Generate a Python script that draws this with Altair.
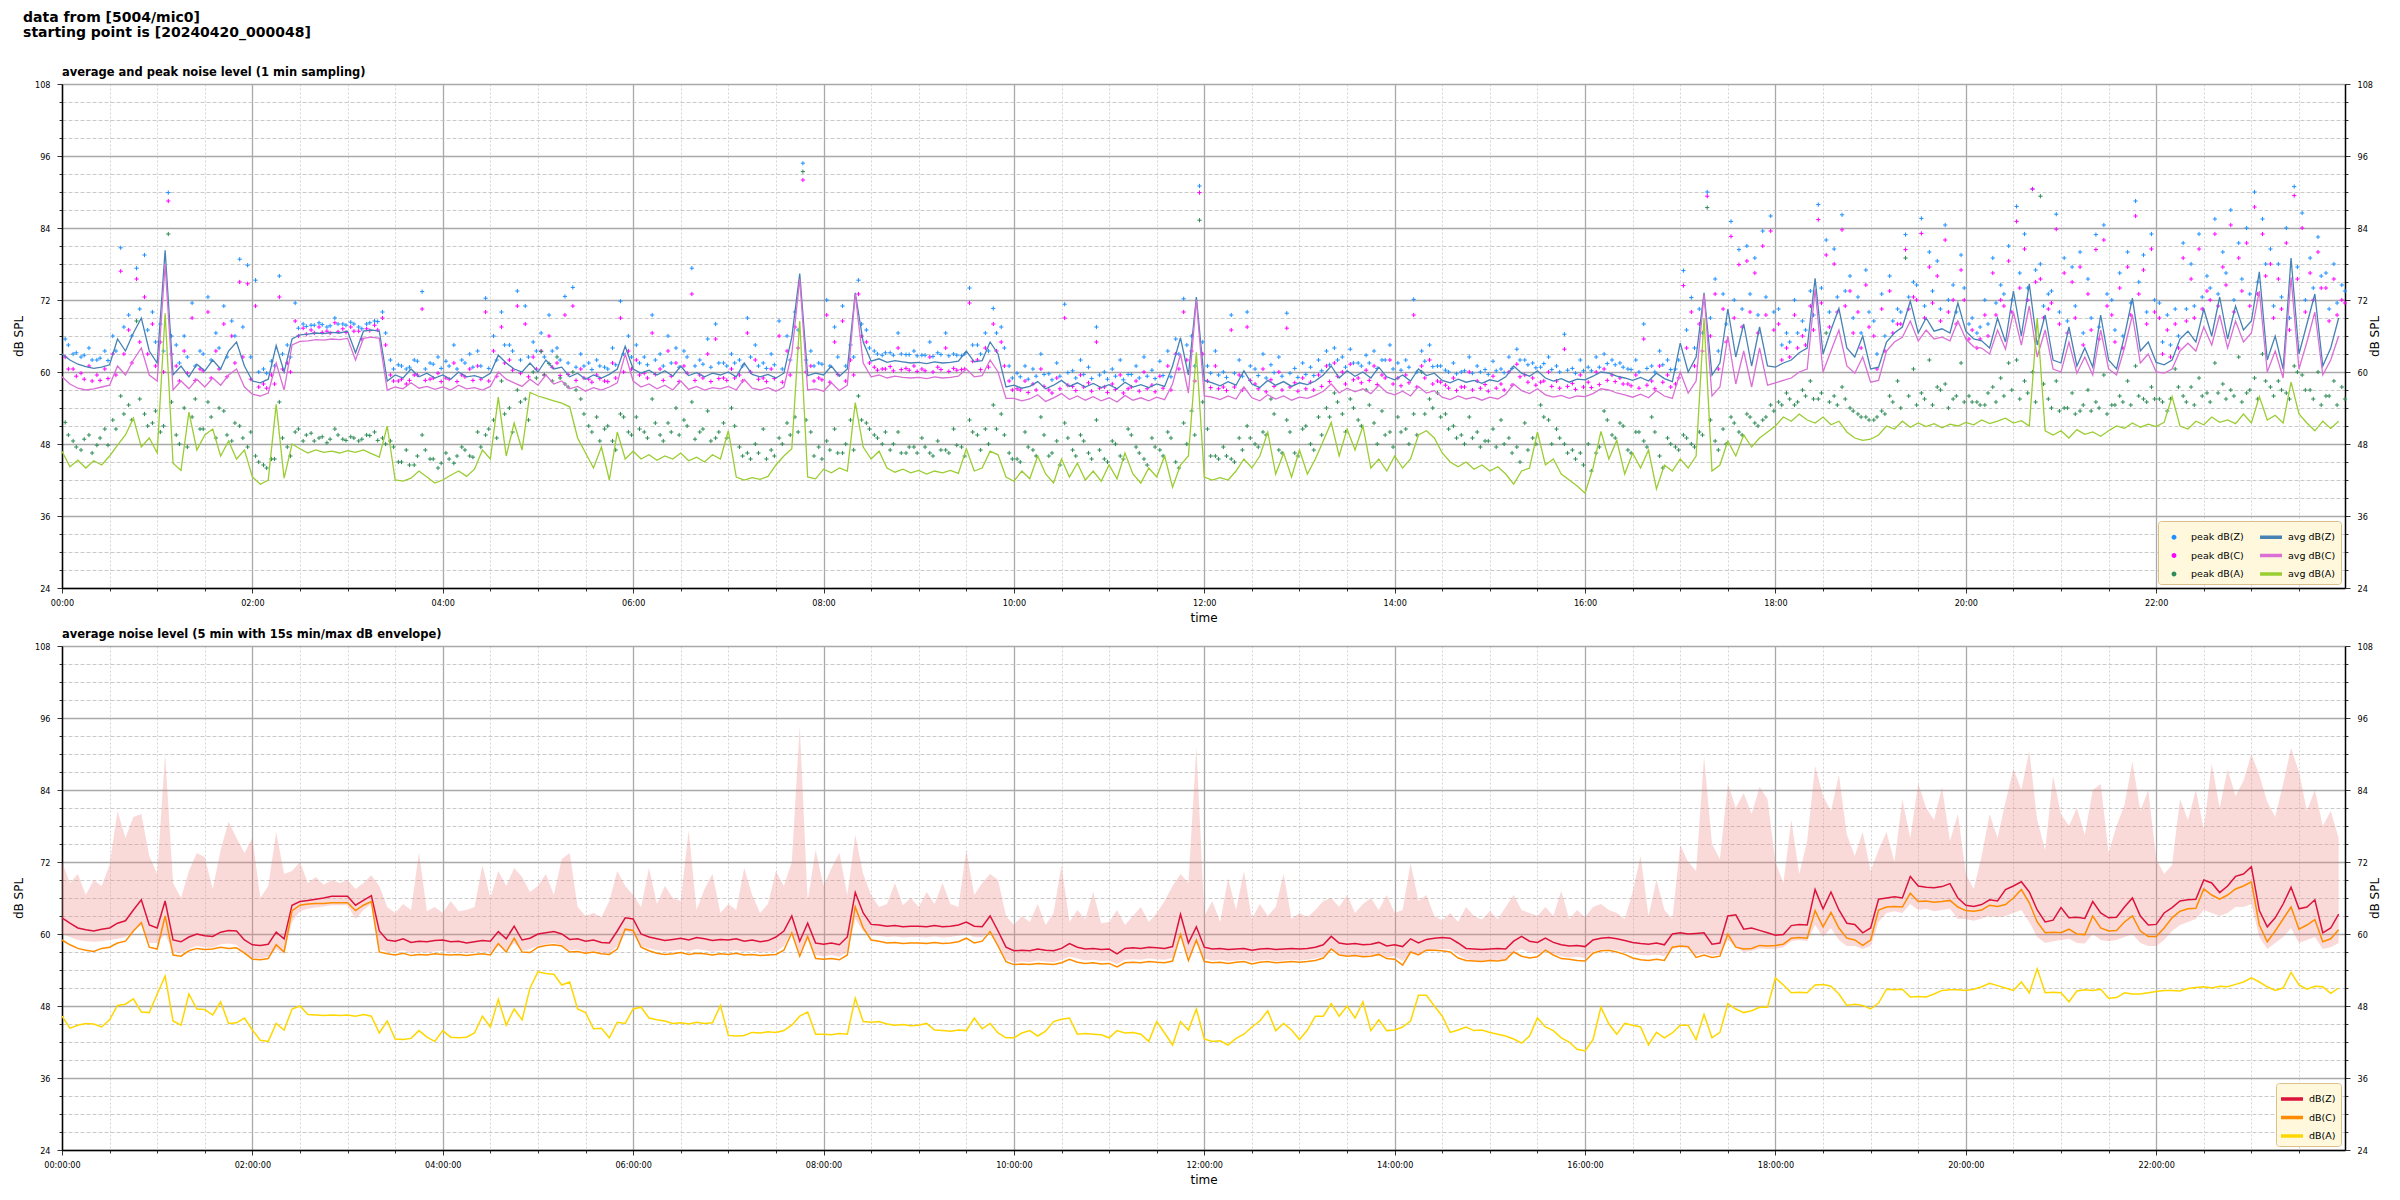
import altair as alt
import pandas as pd

FONT = "DejaVu Sans"
TICK_FONT = "DejaVu Sans Condensed, Liberation Sans Narrow, DejaVu Sans"
W, H = 2283, 504

# ---------------- values (5-minute grid) ----------------
avg_z = [
    63.0, 62.0, 61.3, 60.9, 60.6, 60.8, 61.2, 65.5, 63.5, 66.5, 69.0, 63.5,
    61.5, 80.3, 59.5, 61.0, 59.2, 61.3, 60.2, 62.0, 60.5, 63.5, 65.0, 61.0,
    58.5, 58.2, 58.8, 64.4, 60.0, 65.5, 66.2, 66.3, 66.5, 66.4, 66.6, 66.5,
    66.8, 63.2, 66.8, 67.0, 66.8, 58.5, 59.5, 59.0, 60.5, 59.2, 59.8, 59.0,
    59.5, 58.8, 60.0, 59.2, 59.4, 59.0, 59.8, 62.8, 61.5, 60.5, 60.0, 61.5,
    60.0, 62.0, 60.5, 60.8, 59.2, 59.8, 58.8, 59.5, 59.0, 59.6, 60.5, 64.3,
    60.5, 59.8, 60.3, 59.5, 60.2, 59.3, 61.0, 59.4, 59.9, 59.2, 59.8, 59.5,
    60.0, 59.2, 61.5, 59.6, 59.2, 59.6, 59.0, 59.8, 65.8, 76.4, 59.4, 59.8,
    59.5, 61.0, 59.3, 60.5, 73.2, 65.0, 61.8, 62.2, 61.6, 61.9, 61.7, 61.5,
    61.6, 61.4, 61.7, 61.5, 61.6, 61.8, 63.5, 61.7, 61.9, 65.0, 63.0, 57.5,
    57.8, 57.3, 57.6, 58.4, 57.2, 57.8, 58.6, 57.6, 58.2, 57.5, 58.1, 57.4,
    57.9, 57.2, 58.3, 57.5, 57.9, 57.4, 58.0, 57.6, 61.0, 65.7, 59.5, 72.5,
    58.6, 58.2, 57.7, 58.4, 57.8, 60.2, 58.0, 57.4, 58.6, 57.8, 58.4, 57.6,
    58.2, 57.9, 58.5, 59.5, 61.0, 59.0, 60.2, 59.3, 60.0, 59.0, 60.8, 59.2,
    58.7, 59.5, 58.5, 60.5, 59.4, 59.8, 58.6, 58.2, 58.8, 58.3, 58.6, 58.1,
    58.7, 58.4, 59.2, 61.0, 59.8, 59.3, 60.2, 59.0, 58.5, 58.9, 58.3, 58.8,
    58.7, 59.3, 60.0, 59.8, 59.3, 59.0, 58.6, 59.1, 58.5, 59.8, 58.9, 58.4,
    64.8, 60.0, 62.5, 73.2, 59.5, 61.5, 70.5, 62.5, 68.0, 61.0, 67.5, 61.0,
    60.8, 61.5, 62.0, 63.2, 64.0, 75.6, 63.0, 67.0, 70.6, 64.0, 62.5, 66.0,
    60.5, 60.8, 65.0, 66.5, 67.5, 71.8, 66.5, 69.0, 66.8, 67.2, 66.5, 71.5,
    66.8, 65.5, 65.2, 64.0, 69.0, 65.0, 73.5, 66.0, 74.7, 64.5, 69.5, 62.0,
    61.5, 67.5, 61.0, 64.0, 60.8, 69.5, 62.0, 60.5, 66.0, 72.3, 63.5, 65.0,
    61.6, 61.2, 62.0, 65.5, 66.8, 65.0, 70.5, 66.0, 72.5, 65.5, 71.0, 67.0,
    68.5, 76.7, 62.0, 66.0, 60.5, 79.0, 63.0, 68.0, 73.0, 61.0, 64.0, 69.0,
]
avg_c = [
    59.2, 58.0, 57.3, 57.0, 57.2, 57.5, 57.8, 61.0, 59.5, 62.0, 64.0, 59.5,
    58.5, 78.0, 57.0, 58.5, 57.2, 58.8, 57.5, 59.0, 57.8, 59.5, 60.5, 57.5,
    56.3, 56.0, 56.5, 61.5, 57.0, 64.5, 65.1, 65.2, 65.4, 65.3, 65.5, 65.4,
    65.6, 62.0, 65.6, 65.8, 65.6, 57.0, 57.5, 57.2, 58.2, 57.3, 57.6, 57.1,
    57.5, 57.0, 57.8, 57.2, 57.4, 57.0, 57.6, 60.0, 58.8, 58.2, 57.6, 58.8,
    57.8, 59.5, 58.0, 58.5, 57.2, 57.6, 56.8, 57.4, 57.0, 57.5, 58.2, 63.0,
    58.5, 57.5, 58.0, 57.2, 57.8, 57.0, 58.5, 57.1, 57.6, 57.0, 57.4, 57.2,
    57.6, 57.0, 58.8, 57.3, 57.0, 57.4, 56.8, 57.5, 63.0, 75.5, 57.0, 57.2,
    56.8, 58.2, 56.9, 57.8, 73.0, 61.5, 59.2, 59.5, 59.0, 59.3, 59.1, 59.0,
    59.1, 58.9, 59.2, 59.0, 59.1, 59.3, 60.5, 59.2, 59.4, 62.0, 60.0, 55.6,
    55.6, 55.2, 55.5, 56.2, 55.1, 55.7, 56.4, 55.4, 56.0, 55.3, 55.9, 55.2,
    55.7, 55.0, 56.1, 55.3, 55.7, 55.2, 55.8, 55.4, 58.0, 63.0, 56.5, 72.0,
    56.0, 55.8, 55.4, 56.0, 55.5, 57.5, 55.7, 55.2, 56.2, 55.5, 56.0, 55.3,
    55.8, 55.6, 56.1, 56.8, 58.0, 56.5, 57.3, 56.7, 57.2, 56.4, 57.8, 56.6,
    56.2, 56.8, 56.0, 57.6, 56.5, 56.9, 55.8, 55.4, 56.0, 55.5, 55.8, 55.3,
    55.8, 55.5, 56.3, 58.0, 56.9, 56.4, 57.2, 56.2, 55.8, 56.1, 55.6, 56.0,
    55.9, 56.4, 57.2, 57.0, 56.5, 56.2, 55.8, 56.3, 55.7, 56.9, 56.0, 55.6,
    60.0, 56.5, 58.5, 73.0, 56.0, 57.5, 66.0, 58.0, 63.5, 57.5, 64.0, 57.8,
    58.2, 58.6, 59.0, 60.0, 60.5, 73.8, 60.0, 63.5, 67.0, 61.0, 59.8, 62.5,
    58.3, 58.6, 63.5, 65.0, 65.8, 68.5, 65.2, 67.0, 65.5, 65.8, 65.2, 68.5,
    65.5, 64.2, 64.0, 63.0, 67.0, 63.8, 70.0, 64.5, 71.0, 62.5, 67.0, 60.5,
    60.0, 65.0, 59.8, 62.5, 59.5, 67.0, 60.5, 59.5, 64.0, 69.5, 61.5, 63.0,
    60.0, 59.8, 60.5, 63.5, 64.8, 63.5, 67.5, 64.5, 69.5, 64.0, 68.5, 65.0,
    66.5, 73.5, 60.0, 63.5, 59.0, 75.8, 60.5, 65.0, 70.0, 59.5, 62.0, 66.0,
]
avg_a = [
    46.8, 44.2, 45.3, 44.0, 45.2, 44.5, 46.0, 47.8, 49.5, 52.3, 47.5, 49.0,
    46.5, 69.8, 44.8, 43.6, 53.3, 47.0, 49.5, 50.5, 46.0, 48.5, 45.5, 47.0,
    42.5, 41.3, 42.0, 54.6, 42.3, 48.0, 47.2, 46.5, 47.0, 46.6, 46.8, 46.5,
    46.9, 46.6, 47.0, 46.4, 45.8, 51.0, 42.0, 41.8, 42.3, 43.5, 42.5, 41.5,
    42.0, 42.8, 43.5, 42.6, 43.8, 47.0, 45.5, 55.8, 46.0, 51.5, 47.0, 56.6,
    56.0, 55.6, 55.2, 54.8, 54.2, 49.0, 46.5, 44.0, 47.5, 42.0, 50.0, 45.5,
    46.8, 45.5, 46.2, 45.3, 46.0, 45.5, 46.5, 45.2, 45.8, 45.0, 46.2, 45.5,
    50.2, 42.5, 42.0, 42.4, 42.1, 42.6, 44.5, 46.0, 47.2, 68.5, 42.5, 42.2,
    43.8, 43.2, 44.0, 43.5, 54.9, 47.5, 45.5, 46.8, 44.0, 43.3, 43.8, 43.2,
    43.6, 43.0, 43.5, 43.2, 43.6, 43.1, 47.2, 43.5, 44.0, 46.8, 46.2, 42.5,
    41.8, 43.5, 42.2, 46.0, 43.0, 41.5, 45.5, 42.5, 44.8, 42.0, 43.5, 41.8,
    44.5, 42.2, 46.5, 43.0, 41.5, 44.0, 42.5, 46.0, 40.8, 44.5, 46.0, 63.3,
    42.5, 42.0, 42.4, 42.0, 43.5, 45.5, 44.0, 46.0, 50.0, 43.0, 46.5, 42.5,
    47.0, 43.0, 45.5, 48.5, 51.6, 46.0, 50.5, 47.0, 51.0, 44.0, 45.5, 43.5,
    46.0, 44.0, 45.5, 49.5, 50.2, 49.0, 46.5, 45.0, 44.2, 45.0, 43.8, 44.5,
    43.5, 44.2, 43.0, 41.3, 43.5, 44.0, 50.0, 44.5, 45.5, 43.0, 42.0, 41.0,
    39.8, 44.0, 50.1, 45.5, 48.6, 43.0, 46.5, 44.0, 47.0, 40.5, 44.5, 43.5,
    45.5, 44.0, 46.0, 69.0, 43.5, 44.5, 48.5, 46.0, 49.5, 47.5, 49.0, 50.0,
    51.0, 52.5, 51.8, 53.0, 52.0, 51.5, 52.5, 51.2, 51.8, 50.0, 49.0, 48.6,
    48.8, 49.5, 51.0, 50.5, 51.8, 50.8, 51.5, 50.9, 51.4, 50.7, 51.3, 51.0,
    51.6, 51.2, 52.0, 51.4, 51.8, 52.3, 51.5, 51.9, 51.0, 69.0, 50.2, 49.5,
    50.2, 49.0, 50.4, 49.6, 50.0, 49.3, 50.2, 51.0, 50.6, 51.5, 50.8, 51.3,
    50.9, 51.6, 55.9, 51.0, 50.5, 51.8, 51.2, 52.5, 51.6, 52.0, 51.4, 53.0,
    51.5, 55.9, 52.0, 52.8, 51.5, 58.3, 53.0, 51.5, 50.2, 51.8, 50.6, 51.8,
]
# 1-min peaks, first sample in each 5-min slot (minute +2)
peak_z = [
    65.5, 63.0, 62.5, 64.0, 62.0, 63.5, 66.0, 80.7, 69.5, 77.3, 79.5, 70.0,
    68.0, 89.9, 64.5, 66.0, 71.5, 63.5, 72.5, 66.5, 71.0, 68.5, 78.8, 77.8,
    75.3, 60.5, 61.8, 76.0, 64.5, 71.5, 68.0, 67.8, 68.2, 67.5, 69.0, 68.0,
    68.3, 67.5, 68.0, 68.5, 70.0, 62.0, 61.2, 60.5, 62.0, 73.4, 61.5, 62.5,
    61.8, 64.5, 62.0, 63.0, 63.5, 72.3, 66.0, 70.0, 64.5, 73.5, 71.0, 65.0,
    66.5, 69.5, 64.0, 72.6, 74.1, 63.0, 61.5, 62.0, 60.8, 64.0, 71.8, 66.0,
    64.5, 62.5, 69.5, 63.0, 66.0, 64.0, 63.5, 77.3, 62.0, 65.5, 68.0, 61.5,
    63.0, 62.0, 69.0, 64.5, 61.5, 63.0, 68.5, 66.0, 70.0, 94.8, 63.5, 61.5,
    72.0, 67.5, 71.0, 64.5, 75.3, 67.0, 63.5, 62.8, 63.2, 66.5, 62.9, 63.5,
    62.8, 65.0, 63.2, 66.5, 63.0, 62.7, 74.0, 64.5, 66.5, 70.6, 67.5, 61.0,
    59.8, 61.0, 60.5, 63.0, 59.7, 61.5, 71.3, 60.2, 62.0, 60.8, 67.5, 60.0,
    60.5, 62.0, 59.6, 61.0, 62.5, 60.3, 61.8, 63.5, 65.5, 72.2, 66.0, 91.0,
    61.0, 63.5, 60.0, 69.5, 62.0, 70.0, 60.5, 63.0, 61.2, 62.5, 69.8, 60.6,
    61.5, 60.8, 62.0, 63.5, 64.0, 62.5, 63.8, 61.5, 62.8, 63.5, 62.0, 64.5,
    61.5, 62.0, 72.1, 63.5, 64.5, 61.0, 60.3, 61.5, 60.0, 62.5, 61.0, 60.4,
    61.8, 60.5, 62.5, 63.8, 62.0, 61.5, 60.8, 62.5, 61.0, 66.3, 60.6, 62.0,
    60.8, 62.5, 63.0, 62.0, 61.5, 60.5, 62.0, 68.0, 61.0, 63.5, 62.0, 60.5,
    76.9, 72.4, 70.5, 90.0, 75.5, 73.0, 85.1, 80.4, 81.0, 79.0, 83.5, 86.0,
    70.5, 66.5, 72.0, 68.5, 73.5, 87.9, 82.0, 80.5, 86.2, 76.0, 72.5, 77.0,
    68.5, 73.0, 76.0, 70.5, 82.9, 75.0, 85.6, 80.0, 78.5, 84.5, 74.5, 79.5,
    68.0, 66.5, 72.0, 79.0, 74.5, 81.0, 87.6, 83.0, 90.5, 78.0, 73.0, 86.3,
    79.0, 77.5, 80.0, 75.5, 82.9, 84.5, 72.0, 76.5, 80.0, 88.5, 79.5, 83.0,
    71.5, 69.5, 70.5, 81.5, 78.0, 83.0, 76.0, 85.5, 80.0, 87.0, 81.5, 84.0,
    90.0, 85.5, 80.5, 78.0, 84.0, 90.9, 86.5, 79.0, 82.5, 76.5, 78.0, 74.5,
]
peak_c = [
    62.5, 60.5, 59.8, 61.0, 59.5, 60.5, 63.0, 76.8, 67.0, 75.5, 72.5, 68.0,
    65.0, 88.5, 61.0, 63.5, 69.0, 60.5, 70.0, 63.5, 68.0, 66.0, 75.0, 74.7,
    71.0, 58.0, 59.5, 72.5, 61.5, 68.5, 67.3, 67.0, 67.5, 66.8, 68.2, 67.2,
    67.5, 66.8, 67.2, 67.8, 69.0, 59.5, 58.5, 58.0, 59.5, 70.5, 58.8, 59.8,
    59.0, 61.5, 59.5, 60.5, 61.0, 70.0, 63.5, 67.5, 62.0, 71.0, 68.0, 62.5,
    63.5, 66.0, 61.5, 69.5, 71.0, 60.5, 58.8, 59.5, 58.5, 61.5, 69.0, 63.5,
    62.0, 59.8, 66.5, 60.5, 63.5, 61.5, 61.0, 73.0, 59.5, 63.0, 65.5, 59.0,
    60.5, 59.5, 66.5, 62.0, 59.0, 60.5, 66.0, 63.5, 67.5, 92.0, 61.0, 59.0,
    69.5, 65.0, 68.5, 62.0, 73.0, 65.0, 60.8, 60.5, 60.9, 64.0, 60.6, 61.0,
    60.5, 62.5, 60.8, 64.0, 60.6, 60.4, 71.5, 62.0, 64.0, 68.0, 65.0, 58.5,
    57.2, 58.5, 58.0, 60.5, 57.0, 59.0, 69.0, 57.6, 59.5, 58.2, 65.0, 57.5,
    58.0, 59.5, 57.2, 58.5, 60.0, 57.8, 59.3, 61.0, 63.0, 70.0, 63.5, 89.9,
    58.5, 61.0, 57.5, 67.0, 59.5, 67.5, 58.0, 60.5, 58.7, 60.0, 67.3, 58.2,
    59.0, 58.3, 59.5, 61.0, 61.5, 60.0, 61.3, 59.0, 60.3, 61.0, 59.5, 62.0,
    59.0, 59.5, 69.5, 61.0, 62.0, 58.5, 57.8, 59.0, 57.5, 60.0, 58.5, 57.9,
    59.3, 58.0, 60.0, 61.3, 59.5, 59.0, 58.3, 60.0, 58.5, 63.8, 58.1, 59.5,
    58.3, 60.0, 60.5, 59.5, 59.0, 58.0, 59.5, 65.5, 58.5, 61.0, 59.5, 58.0,
    74.4, 70.0, 68.0, 89.3, 73.0, 70.5, 82.6, 77.9, 78.5, 76.5, 81.0, 83.5,
    68.0, 64.0, 69.5, 66.0, 71.0, 85.4, 79.5, 78.0, 83.7, 73.5, 70.0, 74.5,
    66.0, 70.5, 73.5, 68.0, 80.4, 72.5, 83.1, 77.5, 76.0, 82.0, 72.0, 77.0,
    65.5, 64.0, 69.5, 76.5, 72.0, 78.5, 85.1, 80.5, 90.5, 75.5, 70.5, 83.8,
    76.5, 75.0, 77.5, 73.0, 80.4, 82.0, 69.5, 74.0, 77.5, 86.0, 77.0, 80.5,
    69.0, 67.0, 68.0, 79.0, 75.5, 80.5, 73.5, 83.0, 77.5, 84.5, 79.0, 81.5,
    87.5, 83.0, 78.0, 75.5, 81.5, 89.4, 84.0, 76.5, 80.0, 74.0, 75.5, 72.0,
]
peak_a = [
    51.6, 48.5, 47.0, 49.5, 47.8, 50.5, 52.0, 56.0, 54.5, 68.5, 53.0, 51.5,
    50.0, 83.0, 49.5, 54.0, 52.5, 50.5, 55.0, 49.0, 53.5, 48.5, 51.0, 47.5,
    46.0, 44.5, 45.5, 55.0, 47.5, 50.0, 48.5, 49.8, 49.0, 48.2, 50.5, 48.8,
    49.2, 48.5, 49.5, 50.0, 49.0, 48.5, 45.0, 47.0, 44.5, 49.5, 45.5, 44.0,
    46.5, 44.8, 47.5, 46.0, 50.0, 49.5, 52.0, 58.5, 54.0, 57.0, 55.5, 60.0,
    63.4, 61.4, 62.5, 58.0, 60.0, 55.5, 51.0, 52.5, 50.5, 48.5, 53.0, 50.0,
    52.5, 50.0, 55.5, 49.5, 51.5, 54.0, 52.0, 55.0, 50.0, 53.5, 49.0, 51.5,
    54.0, 47.5, 46.5, 48.0, 50.5, 47.0, 49.0, 51.5, 52.5, 93.4, 50.0, 47.5,
    48.5, 50.5, 46.5, 52.0, 56.0, 51.5, 49.5, 48.0, 47.0, 50.0, 46.5, 47.5,
    49.0, 46.5, 48.5, 47.0, 50.5, 47.5, 52.0, 49.5, 50.5, 54.5, 53.0, 46.5,
    45.5, 50.0, 47.0, 52.5, 46.0, 48.5, 51.5, 47.0, 49.5, 46.5, 52.0, 45.5,
    48.5, 46.0, 50.5, 47.5, 45.5, 49.0, 47.0, 50.0, 45.0, 51.5, 53.5, 85.3,
    50.5, 46.0, 47.5, 45.5, 49.0, 51.0, 48.0, 50.0, 55.5, 47.0, 52.0, 46.5,
    50.5, 48.0, 52.5, 54.0, 56.5, 53.0, 55.5, 52.0, 57.0, 51.5, 53.5, 50.0,
    52.5, 50.5, 53.0, 60.0, 55.5, 56.5, 53.0, 51.0, 49.5, 52.5, 50.0, 48.5,
    50.5, 52.0, 49.0, 47.5, 51.5, 49.0, 54.5, 52.0, 50.5, 48.0, 47.0, 46.5,
    48.0, 46.5, 53.5, 49.5, 51.5, 47.0, 50.0, 48.5, 52.5, 46.0, 49.0, 47.5,
    49.5, 48.0, 50.0, 87.4, 48.5, 50.5, 52.5, 50.0, 53.0, 51.5, 52.0, 54.5,
    55.0, 56.5, 54.5, 57.0, 58.5, 55.5, 66.5, 56.0, 57.5, 54.0, 53.0, 52.5,
    52.0, 53.5, 56.0, 58.5, 79.0, 60.5, 56.5, 62.0, 57.5, 58.0, 55.5, 61.5,
    56.0, 55.0, 54.5, 57.5, 59.0, 61.5, 62.0, 58.5, 60.0, 89.3, 55.5, 58.5,
    54.0, 56.5, 53.5, 57.0, 55.0, 59.5, 54.5, 56.0, 58.5, 61.0, 55.5, 57.5,
    55.5, 53.5, 60.5, 56.0, 57.5, 59.0, 56.5, 61.5, 58.0, 57.0, 62.5, 56.5,
    59.0, 63.0, 57.5, 58.5, 56.5, 61.0, 59.5, 57.0, 60.0, 56.0, 58.5, 57.5,
]
# 1-min peaks, second sample in each 5-min slot (minute +4)
peak2_z = [
    64.5, 63.2, 62.8, 62.0, 62.3, 61.9, 63.5, 67.5, 66.0, 70.5, 67.0, 65.0,
    63.5, 66.0, 61.5, 62.5, 61.0, 63.0, 62.0, 64.0, 62.5, 66.0, 67.5, 62.5,
    60.0, 59.8, 61.0, 63.0, 62.5, 67.3, 67.6, 67.8, 67.9, 67.7, 68.0, 67.8,
    68.0, 67.2, 68.2, 68.4, 66.5, 60.5, 61.0, 60.8, 61.8, 60.5, 61.3, 60.6,
    61.0, 60.5, 61.5, 60.8, 61.0, 60.6, 62.0, 64.5, 63.5, 62.0, 62.5, 63.5,
    62.5, 63.5, 62.0, 61.5, 60.8, 61.0, 60.4, 61.0, 60.5, 61.2, 63.0, 62.5,
    61.5, 61.2, 62.0, 61.0, 61.5, 60.8, 62.5, 61.0, 61.3, 60.8, 61.5, 61.0,
    61.5, 61.0, 62.5, 61.0, 60.6, 61.2, 60.5, 62.0, 67.0, 62.0, 61.0, 61.3,
    61.0, 62.5, 61.0, 62.5, 68.0, 64.0, 63.0, 63.2, 62.8, 63.0, 62.9, 62.7,
    62.8, 62.6, 62.9, 62.7, 62.8, 63.0, 64.5, 63.0, 63.5, 66.5, 64.0, 59.0,
    59.2, 58.8, 59.3, 59.6, 58.7, 59.3, 59.9, 59.0, 59.6, 58.9, 59.5, 58.8,
    59.3, 58.7, 59.6, 59.0, 59.3, 58.9, 59.4, 59.2, 63.0, 64.5, 61.0, 65.0,
    59.8, 59.5, 59.1, 59.8, 59.3, 61.0, 59.4, 59.0, 59.9, 59.3, 59.8, 59.1,
    59.6, 59.4, 60.2, 61.2, 62.0, 60.8, 61.5, 61.0, 61.5, 60.6, 62.0, 60.5,
    60.3, 60.8, 60.0, 61.8, 60.9, 61.0, 60.0, 59.7, 60.2, 59.8, 60.0, 59.6,
    60.2, 59.9, 60.6, 62.0, 61.2, 60.7, 61.4, 60.4, 60.0, 60.3, 59.8, 60.2,
    60.2, 60.8, 61.4, 61.2, 60.8, 60.4, 60.0, 60.6, 60.0, 61.2, 60.4, 62.0,
    67.0, 64.0, 66.5, 69.0, 63.5, 68.0, 72.0, 70.5, 73.0, 69.5, 72.5, 70.0,
    64.5, 65.0, 66.5, 67.0, 69.5, 74.0, 70.0, 72.5, 73.5, 69.0, 66.5, 70.0,
    63.0, 66.0, 68.5, 70.0, 72.5, 74.5, 71.0, 73.5, 70.5, 72.0, 70.0, 74.0,
    69.0, 67.5, 68.0, 71.5, 73.0, 72.0, 76.5, 74.0, 77.0, 71.0, 73.5, 70.0,
    68.5, 71.0, 66.5, 69.0, 67.5, 73.0, 67.0, 66.0, 71.5, 75.0, 70.0, 72.0,
    65.0, 64.5, 66.0, 70.5, 71.0, 72.5, 74.0, 73.0, 76.5, 72.0, 75.5, 73.0,
    75.0, 78.0, 71.0, 72.5, 69.0, 77.5, 72.0, 74.0, 76.0, 70.5, 71.5, 73.5,
]
peak2_c = [
    60.5, 59.3, 58.8, 58.5, 58.6, 58.9, 59.5, 63.0, 61.5, 65.0, 63.0, 61.0,
    60.0, 63.0, 58.5, 59.8, 58.6, 60.2, 59.0, 60.5, 59.2, 61.5, 62.5, 58.8,
    57.5, 57.3, 58.0, 60.5, 60.0, 66.0, 66.3, 66.5, 66.6, 66.5, 66.7, 66.6,
    66.8, 65.5, 66.9, 67.0, 64.5, 58.5, 58.8, 58.6, 59.5, 58.6, 59.0, 58.4,
    58.8, 58.4, 59.2, 58.6, 58.8, 58.5, 59.3, 61.5, 60.3, 59.8, 59.2, 60.5,
    59.5, 60.8, 59.4, 59.6, 58.6, 59.0, 58.3, 58.9, 58.4, 59.0, 60.0, 60.5,
    59.5, 59.0, 59.6, 58.6, 59.3, 58.4, 59.8, 58.6, 59.0, 58.4, 58.9, 58.6,
    59.0, 58.5, 60.0, 58.8, 58.4, 58.9, 58.3, 59.5, 64.0, 60.0, 58.5, 58.7,
    58.3, 59.6, 58.5, 59.5, 66.0, 61.5, 60.3, 60.5, 60.2, 60.4, 60.3, 60.1,
    60.2, 60.0, 60.4, 60.1, 60.3, 60.5, 61.8, 60.4, 60.8, 63.5, 61.0, 57.0,
    57.0, 56.6, 57.0, 57.6, 56.5, 57.2, 57.8, 56.9, 57.5, 56.8, 57.3, 56.6,
    57.1, 56.5, 57.5, 56.8, 57.2, 56.7, 57.3, 57.0, 60.5, 62.0, 58.5, 63.0,
    57.4, 57.2, 56.9, 57.5, 57.0, 58.6, 57.2, 56.7, 57.6, 57.0, 57.5, 56.8,
    57.2, 57.0, 57.6, 58.4, 59.3, 58.0, 58.7, 58.2, 58.6, 57.9, 59.0, 58.0,
    57.7, 58.2, 57.5, 59.0, 58.0, 58.3, 57.3, 56.9, 57.5, 57.0, 57.3, 56.8,
    57.3, 57.0, 57.8, 59.2, 58.3, 57.8, 58.5, 57.6, 57.3, 57.6, 57.1, 57.5,
    57.4, 57.9, 58.6, 58.4, 58.0, 57.7, 57.3, 57.8, 57.2, 58.3, 57.5, 59.0,
    64.0, 61.0, 63.5, 66.0, 60.5, 65.0, 69.0, 67.5, 70.0, 66.5, 69.5, 67.0,
    62.0, 62.5, 64.0, 64.5, 67.0, 71.5, 67.5, 70.0, 71.0, 66.5, 64.0, 67.5,
    60.5, 63.5, 66.5, 68.0, 70.5, 72.0, 69.0, 71.5, 68.5, 70.0, 68.0, 72.0,
    67.0, 65.5, 66.0, 69.5, 71.0, 70.0, 74.0, 72.0, 75.0, 69.0, 71.5, 68.0,
    66.5, 69.0, 64.5, 67.0, 65.5, 71.0, 65.0, 64.0, 69.5, 73.0, 68.0, 70.0,
    63.0, 62.5, 64.0, 68.5, 69.0, 70.5, 72.0, 71.0, 74.5, 70.0, 73.5, 71.0,
    73.0, 76.0, 69.0, 70.5, 67.0, 75.5, 70.0, 72.0, 74.0, 68.5, 69.5, 71.5,
]
peak2_a = [
    49.5, 47.5, 48.8, 46.5, 49.0, 47.8, 50.5, 53.0, 52.0, 55.5, 51.0, 53.5,
    51.0, 55.0, 48.0, 47.5, 55.5, 50.5, 52.5, 54.0, 49.5, 51.5, 49.0, 50.0,
    45.0, 44.0, 45.5, 49.0, 46.0, 50.5, 49.5, 48.5, 49.2, 48.8, 49.5, 48.6,
    49.0, 48.8, 49.4, 48.6, 48.0, 47.5, 45.0, 44.5, 46.0, 47.0, 45.5, 44.8,
    45.5, 46.0, 47.0, 45.8, 47.5, 50.5, 49.0, 53.0, 50.0, 55.0, 52.0, 59.0,
    59.5, 58.5, 59.0, 57.5, 57.0, 53.0, 50.0, 48.5, 51.0, 47.0, 52.5, 49.5,
    50.5, 49.0, 51.5, 48.5, 50.0, 49.5, 51.0, 48.8, 50.5, 48.5, 50.0, 49.0,
    51.0, 46.0, 45.5, 46.5, 45.5, 46.0, 48.0, 49.5, 50.0, 52.0, 46.0, 45.5,
    47.0, 46.5, 48.0, 47.0, 52.0, 50.5, 49.0, 50.0, 48.0, 46.5, 47.5, 46.5,
    47.5, 46.0, 47.0, 46.5, 47.8, 46.0, 50.0, 47.0, 48.0, 50.5, 49.5, 45.5,
    45.0, 47.5, 46.0, 49.5, 46.5, 44.5, 49.0, 46.0, 48.5, 45.5, 47.0, 45.0,
    48.0, 45.5, 49.5, 46.5, 44.5, 47.5, 46.0, 49.0, 44.0, 48.0, 49.5, 55.0,
    46.0, 45.5, 46.0, 45.0, 47.0, 49.0, 47.5, 49.5, 53.0, 46.5, 50.0, 46.0,
    51.0, 47.0, 49.5, 52.5, 55.0, 50.0, 54.0, 51.0, 54.5, 48.0, 49.5, 47.5,
    50.0, 48.0, 49.5, 53.0, 54.0, 52.5, 50.5, 49.0, 48.0, 49.0, 47.5, 48.5,
    47.5, 48.0, 46.5, 45.0, 47.0, 48.0, 52.5, 48.0, 49.0, 46.5, 45.5, 44.5,
    43.5, 47.5, 52.0, 49.0, 51.0, 46.5, 50.0, 47.5, 50.0, 44.0, 48.0, 47.0,
    49.0, 47.5, 49.5, 52.0, 47.0, 48.0, 51.5, 49.5, 52.5, 51.0, 52.5, 53.5,
    54.5, 55.5, 55.0, 56.0, 55.5, 56.5, 55.0, 54.5, 55.5, 53.5, 52.5, 52.0,
    52.5, 53.0, 55.0, 54.0, 56.0, 54.5, 55.5, 54.5, 57.0, 54.0, 56.0, 55.0,
    55.0, 54.5, 56.5, 55.0, 56.0, 57.0, 55.5, 56.5, 55.0, 58.0, 54.0, 53.5,
    54.0, 53.0, 54.5, 53.5, 54.0, 53.0, 54.5, 55.0, 54.5, 56.0, 55.0, 55.5,
    55.0, 55.5, 57.5, 55.0, 54.5, 56.0, 55.0, 56.5, 55.5, 56.0, 55.0, 57.0,
    55.5, 58.5, 56.0, 57.0, 55.5, 60.0, 57.0, 55.5, 54.5, 56.0, 54.5, 55.5,
]
bot_z = [
    62.7, 61.8, 61.0, 60.7, 60.5, 60.8, 61.0, 61.8, 62.2, 64.0, 65.7, 61.5,
    61.0, 65.5, 59.0, 58.7, 59.5, 60.0, 59.7, 59.6, 60.3, 60.6, 60.5, 59.0,
    58.2, 58.1, 58.3, 60.3, 59.2, 64.8, 65.4, 65.6, 65.8, 66.0, 66.3, 66.3,
    66.3, 64.8, 65.6, 66.4, 60.5, 59.0, 58.8, 59.2, 58.6, 58.8, 58.7, 58.9,
    59.0, 58.7, 58.8, 58.5, 58.7, 58.9, 58.8, 60.4, 59.2, 61.3, 59.0, 59.3,
    60.0, 60.2, 60.4, 60.0, 59.1, 59.2, 58.8, 59.0, 58.6, 58.5, 60.5, 62.7,
    62.5, 60.0, 59.5, 59.2, 58.9, 59.1, 59.3, 59.0, 59.4, 59.2, 58.9, 59.1,
    59.0, 59.2, 58.8, 59.0, 58.7, 58.9, 59.5, 60.5, 63.0, 58.8, 61.8, 58.5,
    58.3, 58.5, 58.2, 59.5, 66.9, 63.5, 61.6, 61.5, 61.3, 61.4, 61.2, 61.3,
    61.3, 61.2, 61.4, 61.2, 61.3, 61.5, 62.0, 61.3, 61.2, 63.0, 60.5, 57.8,
    57.2, 57.3, 57.2, 57.5, 57.3, 57.2, 57.6, 58.4, 57.8, 57.5, 57.6, 57.4,
    57.5, 56.7, 57.6, 57.7, 57.6, 57.8, 57.7, 57.6, 57.9, 63.3, 58.5, 61.2,
    57.8, 57.5, 57.6, 57.4, 57.5, 57.6, 57.3, 57.5, 57.6, 57.4, 57.5, 57.6,
    57.5, 57.6, 57.8, 58.2, 59.6, 58.5, 58.3, 58.4, 58.2, 58.3, 58.6, 58.0,
    58.2, 57.9, 59.2, 58.5, 59.1, 59.3, 59.4, 59.3, 58.5, 57.6, 57.5, 57.4,
    57.5, 57.6, 57.5, 58.8, 59.6, 58.8, 58.6, 59.3, 58.6, 58.2, 58.0, 58.1,
    57.9, 59.0, 59.3, 59.4, 59.2, 58.9, 58.6, 58.4, 58.3, 58.5, 58.2, 60.0,
    60.2, 60.0, 60.1, 60.2, 58.3, 58.5, 63.0, 63.2, 60.8, 61.0, 60.6, 60.2,
    59.8, 59.9, 61.4, 61.6, 61.5, 67.4, 64.2, 67.0, 64.0, 61.8, 61.6, 60.2,
    61.0, 65.8, 66.0, 66.2, 66.0, 69.6, 68.0, 67.8, 67.7, 67.9, 68.4, 66.0,
    64.8, 64.6, 64.9, 65.7, 65.5, 67.4, 68.0, 68.7, 67.0, 64.0, 62.0, 62.3,
    64.4, 62.7, 62.8, 62.6, 65.4, 63.5, 62.7, 62.8, 64.5, 66.0, 63.0, 61.5,
    61.6, 63.5, 64.4, 65.5, 65.7, 65.8, 69.0, 68.5, 66.9, 68.0, 69.6, 70.0,
    71.2, 63.9, 61.2, 62.7, 65.0, 67.8, 64.2, 64.5, 65.7, 60.2, 61.0, 63.3,
]
bot_c = [
    59.0, 58.2, 57.6, 57.3, 57.1, 57.6, 57.8, 58.5, 58.8, 60.5, 61.9, 57.8,
    57.5, 63.0, 56.5, 56.3, 57.2, 57.6, 57.4, 57.5, 57.8, 57.6, 57.7, 56.8,
    55.8, 55.7, 55.9, 58.2, 57.0, 63.9, 64.8, 65.0, 65.1, 65.1, 65.2, 65.2,
    65.2, 63.9, 64.8, 65.4, 57.0, 56.7, 56.5, 56.8, 56.4, 56.6, 56.5, 56.7,
    56.6, 56.5, 56.6, 56.4, 56.6, 56.7, 56.5, 58.4, 57.0, 59.3, 57.0, 56.9,
    57.8, 58.1, 58.2, 58.0, 57.0, 57.1, 56.8, 57.0, 56.7, 56.6, 57.5, 60.8,
    60.6, 57.8, 57.2, 56.8, 56.6, 56.7, 56.9, 56.6, 56.8, 56.7, 56.5, 56.7,
    56.6, 56.8, 56.5, 56.6, 56.4, 56.5, 56.6, 57.3, 60.2, 56.3, 59.6, 55.9,
    55.8, 55.9, 55.7, 56.5, 64.5, 61.0, 59.0, 58.8, 58.5, 58.6, 58.4, 58.5,
    58.5, 58.4, 58.6, 58.4, 58.5, 58.7, 59.3, 58.5, 58.8, 60.4, 58.0, 55.4,
    54.9, 55.0, 54.9, 55.1, 55.0, 54.9, 55.2, 55.8, 55.3, 55.1, 55.2, 55.0,
    55.1, 54.5, 55.2, 55.3, 55.2, 55.4, 55.3, 55.2, 55.5, 59.9, 55.6, 59.0,
    55.4, 55.2, 55.3, 55.1, 55.3, 55.4, 55.0, 55.3, 55.4, 55.2, 55.3, 55.4,
    55.3, 55.4, 55.6, 56.0, 57.5, 56.5, 56.3, 56.4, 56.2, 56.3, 56.6, 55.9,
    55.8, 54.8, 57.0, 56.5, 57.3, 57.3, 57.2, 57.0, 56.0, 55.6, 55.5, 55.4,
    55.6, 55.5, 55.7, 57.0, 56.3, 56.0, 56.2, 57.3, 56.5, 55.9, 55.8, 55.6,
    55.5, 56.8, 57.2, 57.3, 57.0, 56.6, 56.0, 55.7, 55.6, 55.8, 55.6, 57.8,
    58.0, 57.9, 56.1, 56.5, 56.1, 56.3, 60.0, 57.8, 57.5, 57.6, 58.1, 58.0,
    58.1, 58.3, 59.3, 59.4, 59.3, 63.9, 61.2, 63.6, 61.0, 59.3, 59.0, 58.1,
    59.0, 64.0, 64.5, 64.6, 64.5, 66.8, 65.4, 65.5, 65.3, 65.4, 65.6, 64.5,
    63.9, 63.8, 64.0, 64.8, 64.6, 64.9, 66.0, 67.4, 65.2, 62.0, 60.2, 60.3,
    60.2, 60.8, 60.0, 59.9, 63.0, 61.0, 60.5, 60.6, 62.0, 63.0, 60.5, 59.6,
    59.6, 61.0, 62.7, 63.8, 64.2, 64.3, 67.5, 66.5, 65.8, 66.5, 67.5, 68.0,
    68.7, 61.5, 58.7, 60.5, 62.5, 64.5, 60.8, 61.5, 62.4, 58.7, 59.2, 60.7,
]
bot_a = [
    46.3, 44.3, 44.8, 45.1, 45.0, 44.5, 45.7, 48.1, 48.3, 49.2, 47.0, 46.9,
    50.0, 53.0, 45.5, 44.8, 50.0, 47.5, 47.4, 46.5, 48.7, 45.1, 45.2, 46.0,
    44.0, 42.3, 42.1, 45.1, 44.0, 47.5, 48.0, 46.6, 46.5, 46.4, 46.5, 46.4,
    46.5, 46.3, 46.6, 46.3, 43.5, 45.5, 42.5, 42.4, 42.6, 43.9, 42.8, 42.1,
    43.9, 42.8, 42.7, 42.8, 43.5, 46.3, 44.5, 49.1, 44.8, 47.5, 45.7, 51.0,
    53.7, 53.4, 53.3, 51.5, 52.0, 47.5, 46.9, 44.2, 44.3, 42.7, 45.3, 45.1,
    47.5, 47.8, 46.0, 45.7, 45.5, 45.1, 45.2, 45.0, 45.3, 45.1, 45.2, 48.1,
    43.1, 43.0, 43.1, 43.6, 43.5, 43.7, 43.6, 43.9, 44.8, 46.3, 47.0, 43.3,
    43.3, 43.2, 43.4, 43.3, 49.3, 45.4, 45.3, 45.4, 45.0, 44.8, 44.9, 44.7,
    44.8, 45.1, 44.0, 43.9, 43.8, 44.0, 43.9, 46.0, 44.2, 45.1, 43.5, 42.7,
    42.7, 43.5, 43.9, 43.0, 43.8, 45.4, 45.8, 46.0, 43.3, 43.4, 43.3, 43.2,
    42.7, 43.9, 43.5, 43.6, 43.3, 42.1, 45.4, 43.5, 41.5, 45.4, 44.0, 47.5,
    42.5, 42.1, 42.2, 41.5, 42.6, 43.3, 44.5, 45.5, 47.2, 43.9, 45.1, 44.0,
    42.4, 44.0, 46.3, 46.3, 48.4, 46.3, 48.0, 46.0, 48.7, 43.9, 45.7, 43.9,
    44.0, 44.5, 45.5, 49.8, 49.8, 48.0, 46.3, 43.6, 44.0, 44.5, 43.9, 44.0,
    43.6, 43.3, 43.0, 42.5, 41.8, 43.0, 46.0, 44.5, 43.9, 42.7, 42.0, 40.8,
    40.5, 42.4, 47.8, 45.0, 43.3, 45.1, 44.8, 44.5, 41.5, 43.6, 42.7, 43.5,
    44.8, 44.8, 42.4, 46.6, 42.7, 43.6, 48.4, 47.5, 46.9, 47.2, 47.8, 47.8,
    52.7, 51.5, 50.2, 50.3, 50.2, 51.5, 51.6, 51.3, 50.0, 48.1, 48.3, 48.1,
    47.5, 48.5, 50.8, 50.7, 50.8, 49.5, 49.6, 49.5, 50.0, 50.6, 50.7, 50.7,
    50.6, 50.8, 51.2, 51.8, 51.4, 51.0, 50.6, 52.0, 50.2, 54.2, 50.2, 50.3,
    50.2, 48.7, 50.5, 50.7, 50.6, 50.8, 49.3, 49.4, 50.2, 50.0, 50.0, 50.2,
    50.4, 50.6, 50.6, 50.5, 50.9, 51.1, 51.2, 51.0, 51.3, 51.2, 51.6, 52.0,
    52.7, 52.0, 51.2, 50.6, 51.0, 53.6, 51.5, 50.8, 51.3, 51.2, 50.1, 51.0,
]
env_hi = [
    72.0, 68.5, 70.0, 66.5, 69.0, 68.0, 71.5, 80.5, 76.0, 79.5, 80.0, 73.0,
    70.0, 90.0, 68.5, 66.0, 70.5, 73.5, 72.8, 67.5, 74.0, 78.7, 76.0, 73.5,
    76.0, 66.0, 68.0, 77.0, 70.0, 70.5, 72.0, 68.5, 69.5, 68.2, 69.0, 68.5,
    69.0, 67.5, 68.5, 69.8, 68.0, 64.5, 63.5, 65.0, 64.0, 73.6, 63.8, 64.5,
    63.5, 65.5, 63.8, 64.0, 64.5, 71.5, 66.0, 70.5, 68.0, 71.0, 69.5, 67.0,
    68.0, 70.0, 66.5, 72.5, 73.5, 64.5, 63.0, 63.5, 62.8, 65.5, 70.5, 68.0,
    66.5, 64.5, 71.0, 65.0, 68.0, 66.0, 65.5, 77.3, 64.0, 67.5, 70.0, 63.5,
    65.0, 64.0, 71.0, 66.5, 63.5, 65.0, 70.5, 68.0, 72.0, 94.7, 65.5, 74.0,
    68.0, 71.0, 73.5, 66.5, 76.5, 70.0, 66.5, 64.5, 65.0, 68.5, 64.8, 66.0,
    64.5, 67.0, 65.0, 68.5, 65.0, 64.5, 74.0, 66.5, 68.5, 70.0, 69.0, 63.0,
    61.5, 63.0, 62.0, 65.0, 61.5, 63.5, 71.5, 62.0, 64.0, 62.5, 67.0, 61.8,
    62.0, 64.0, 61.5, 63.0, 64.5, 62.0, 63.5, 65.5, 68.0, 70.0, 68.5, 91.2,
    63.0, 65.5, 62.0, 69.3, 64.0, 70.5, 62.5, 65.0, 63.0, 64.5, 70.0, 62.5,
    63.5, 62.8, 64.0, 65.5, 66.0, 64.5, 66.5, 63.5, 65.0, 66.0, 64.0, 66.5,
    63.5, 64.0, 71.8, 65.5, 66.5, 63.0, 62.3, 63.5, 62.0, 64.5, 63.0, 62.4,
    63.8, 62.5, 64.5, 66.5, 64.0, 63.5, 63.0, 64.5, 63.0, 67.2, 62.5, 64.0,
    62.8, 64.5, 65.0, 64.0, 63.5, 62.5, 67.0, 73.0, 63.0, 69.0, 64.0, 62.5,
    74.8, 72.0, 70.5, 89.6, 75.0, 72.5, 85.0, 81.0, 83.5, 80.0, 84.5, 82.5,
    72.0, 68.5, 79.0, 70.0, 75.5, 88.0, 83.0, 80.5, 86.5, 76.6, 73.0, 77.0,
    70.5, 74.0, 77.0, 72.0, 82.4, 76.0, 85.1, 81.0, 79.0, 84.5, 75.5, 80.0,
    70.0, 67.5, 73.0, 80.0, 76.0, 82.0, 87.5, 84.0, 90.5, 79.0, 74.0, 86.3,
    80.0, 78.0, 81.0, 76.5, 84.0, 85.0, 73.5, 78.0, 81.5, 88.7, 80.5, 84.0,
    72.5, 70.0, 71.5, 82.5, 79.0, 84.0, 77.5, 88.4, 81.0, 87.5, 83.0, 85.5,
    90.0, 86.5, 82.0, 79.5, 85.0, 91.0, 87.0, 80.5, 84.0, 78.0, 80.5, 76.0,
]
env_lo = [
    60.0, 59.5, 59.0, 58.8, 58.7, 58.8, 59.0, 59.2, 59.5, 60.5, 61.5, 58.5,
    58.5, 60.0, 57.0, 56.8, 57.5, 58.0, 57.8, 57.7, 58.3, 58.4, 58.2, 56.8,
    56.0, 55.9, 56.2, 57.5, 56.8, 62.0, 63.8, 64.2, 64.4, 64.6, 64.8, 64.8,
    64.8, 62.5, 64.0, 65.0, 57.5, 57.0, 57.0, 57.3, 56.8, 57.0, 56.9, 57.1,
    57.2, 56.9, 57.0, 56.8, 57.0, 57.1, 57.0, 58.0, 57.3, 58.5, 57.2, 57.5,
    58.0, 58.3, 58.5, 58.1, 57.3, 57.4, 57.0, 57.2, 56.9, 56.8, 58.0, 60.5,
    60.0, 58.0, 57.6, 57.3, 57.1, 57.2, 57.4, 57.1, 57.5, 57.3, 57.0, 57.2,
    57.1, 57.3, 57.0, 57.2, 56.9, 57.1, 57.0, 58.0, 60.5, 56.8, 59.5, 56.5,
    56.3, 56.5, 56.2, 57.0, 62.5, 60.5, 59.8, 59.7, 59.5, 59.6, 59.4, 59.5,
    59.5, 59.4, 59.6, 59.4, 59.5, 59.7, 60.0, 59.5, 59.4, 60.5, 58.0, 55.8,
    55.3, 55.4, 55.3, 55.6, 55.4, 55.3, 55.7, 56.2, 55.9, 55.6, 55.7, 55.5,
    55.6, 55.0, 55.7, 55.8, 55.7, 55.9, 55.8, 55.7, 56.0, 60.0, 56.2, 58.5,
    55.9, 55.6, 55.7, 55.5, 55.6, 55.7, 55.4, 55.6, 55.7, 55.5, 55.6, 55.7,
    55.6, 55.7, 55.9, 56.3, 57.5, 56.6, 56.4, 56.5, 56.3, 56.4, 56.7, 56.1,
    56.3, 55.5, 57.0, 56.6, 57.2, 57.4, 57.5, 57.4, 56.6, 55.8, 55.6, 55.5,
    55.6, 55.7, 55.6, 57.0, 57.5, 56.9, 56.7, 57.4, 56.7, 56.3, 56.1, 56.2,
    56.0, 57.0, 57.4, 57.5, 57.3, 57.0, 56.7, 56.5, 56.4, 56.6, 56.3, 57.5,
    57.8, 57.5, 56.5, 56.8, 56.4, 56.6, 59.0, 57.8, 57.0, 57.2, 57.6, 57.5,
    57.5, 57.8, 58.8, 59.0, 58.8, 61.5, 59.5, 61.0, 59.0, 58.0, 58.0, 57.5,
    58.0, 62.0, 63.5, 63.8, 63.5, 65.0, 64.0, 64.2, 63.8, 64.0, 64.2, 62.5,
    62.5, 62.2, 62.6, 63.0, 62.8, 63.0, 63.5, 64.0, 62.0, 59.5, 58.5, 58.8,
    59.0, 59.2, 58.5, 58.4, 60.0, 59.0, 58.8, 59.0, 59.5, 60.0, 58.5, 58.0,
    58.0, 59.0, 60.5, 61.5, 62.0, 62.5, 64.0, 63.5, 63.0, 63.5, 64.5, 64.5,
    65.0, 59.5, 57.5, 58.5, 59.5, 61.0, 58.5, 59.0, 59.5, 57.5, 57.8, 58.5,
]

# sampling grid (minutes after 00:00)
grid_t = [5 * i for i in range(len(avg_z))]
peak_t = [5 * i + 2 for i in range(len(peak_z))]
peak2_t = [5 * i + 4 for i in range(len(peak2_z))]

x_ticks = list(range(0, 1440, 30))
y_ticks = list(range(24, 109, 3))

PEAK_NAMES = ["peak dB(Z)", "peak dB(C)", "peak dB(A)"]
PEAK_COLORS = ["#1e90ff", "#ff00ff", "#2e8b57"]
AVG_NAMES = ["avg dB(Z)", "avg dB(C)", "avg dB(A)"]
AVG_COLORS = ["#4682b4", "#da70d6", "#9acd32"]
BOT_NAMES = ["dB(Z)", "dB(C)", "dB(A)"]
BOT_COLORS = ["#dc143c", "#ff8c00", "#ffd700"]


def long_df(t, named):
    rows = []
    for name, vals in named:
        for tt, v in zip(t, vals):
            rows.append({"t": tt, "v": v, "s": name})
    return pd.DataFrame(rows)


top_avg = long_df(grid_t, zip(AVG_NAMES, [avg_z, avg_c, avg_a]))
top_peak = pd.concat([
    long_df(peak_t, zip(PEAK_NAMES, [peak_z, peak_c, peak_a])),
    long_df(peak2_t, zip(PEAK_NAMES, [peak2_z, peak2_c, peak2_a])),
], ignore_index=True)
bot_lines = long_df(grid_t, zip(BOT_NAMES, [bot_z, bot_c, bot_a]))
env = pd.DataFrame({"t": grid_t, "lo": env_lo, "hi": env_hi})

# ---------------- styling helpers ----------------
MAJ_X = "datum.value % 120 === 0"
MAJ_Y = "datum.value % 12 === 0"


def cond(test, major, minor):
    return {"condition": {"test": test, "value": major}, "value": minor}


def x_axis(suffix):
    return alt.Axis(
        values=x_ticks, title="time",
        labelExpr=f"{MAJ_X} ? (datum.value < 600 ? '0' : '') + floor(datum.value / 60) + '{suffix}' : ''",
        grid=True,
        gridColor=cond(MAJ_X, "#a9a9a9", "#c9c9c9"),
        gridDash=cond(MAJ_X, [], [2, 2]),
        gridWidth=cond(MAJ_X, 1.3, 0.8),
        tickSize=cond(MAJ_X, 5, 3),
        tickColor="black", tickWidth=0.8,
        labelFont=TICK_FONT, labelFontSize=9, labelColor="black", labelPadding=5,
        labelFlush=False, labelOverlap=False,
        titleFont=FONT, titleFontSize=12, titleFontWeight="normal", titleColor="black",
        titlePadding=5,
        domainColor="black", domainWidth=1.5,
    )


def y_axis(orient):
    return alt.Axis(
        values=y_ticks, title="dB SPL", orient=orient,
        labelExpr=f"{MAJ_Y} ? datum.label : ''",
        grid=(orient == "left"),
        gridColor=cond(MAJ_Y, "#a9a9a9", "#bdbdbd"),
        gridDash=cond(MAJ_Y, [], [4, 2]),
        gridWidth=cond(MAJ_Y, 1.3, 0.8),
        tickSize=cond(MAJ_Y, 5, 3),
        tickColor="black", tickWidth=0.8,
        labelFont=TICK_FONT, labelFontSize=9, labelColor="black", labelPadding=7,
        labelFlush=False, labelOverlap=False,
        titleFont=FONT, titleFontSize=12, titleFontWeight="normal", titleColor="black",
        titlePadding=9, titleAngle=270,
        domainColor="black", domainWidth=1.5,
    )


XS = alt.Scale(domain=[0, 1439], nice=False, zero=False)
YS = alt.Scale(domain=[24, 108], nice=False, zero=False)

PLUS = "M-1,0H1M0,-1V1"
DOT = "M0.22,0A0.22,0.22,0,1,1,-0.22,0A0.22,0.22,0,1,1,0.22,0Z"
BAR = "M-1,-0.16H1V0.16H-1Z"


def legend(columns):
    return alt.Legend(
        title=None, orient="bottom-right", offset=4, columns=columns,
        padding=5, fillColor="#fff8dc", strokeColor="#dcc089", cornerRadius=3,
        labelFont=FONT, labelFontSize=9.5, labelColor="black", labelOffset=6,
        columnPadding=16, rowPadding=2.5,
        symbolSize=484, symbolOpacity=1, symbolStrokeWidth=0,
    )


def legend_layer(names, colors, shapes, columns):
    df = pd.DataFrame({"s": names})
    lg = legend(columns)
    return alt.Chart(df).mark_point(filled=True, size=0, opacity=0).encode(
        color=alt.Color("s:N", scale=alt.Scale(domain=names, range=colors), legend=lg),
        shape=alt.Shape("s:N", scale=alt.Scale(domain=names, range=shapes), legend=lg),
    )


def panel_title(text):
    return alt.TitleParams(text, anchor="start", frame="group", font=FONT, fontSize=11.5,
                           fontWeight="bold", color="black", offset=2)


# ---------------- top panel ----------------
top_x = x_axis(":00")
peaks = alt.Chart(top_peak).mark_point(shape=PLUS, size=18, strokeWidth=1, filled=False, opacity=1).encode(
    x=alt.X("t:Q", scale=XS, axis=top_x),
    y=alt.Y("v:Q", scale=YS, axis=y_axis("right")),
    color=alt.Color("s:N", scale=alt.Scale(domain=PEAK_NAMES, range=PEAK_COLORS), legend=None),
)
avg_lines = alt.Chart(top_avg).mark_line(strokeWidth=1.3).encode(
    x=alt.X("t:Q", scale=XS, axis=top_x),
    y=alt.Y("v:Q", scale=YS, axis=y_axis("left")),
    color=alt.Color("s:N", scale=alt.Scale(domain=AVG_NAMES, range=AVG_COLORS), legend=None),
    detail="s:N",
)
# legend entries are laid out column by column
top_leg = legend_layer(
    ["peak dB(Z)", "peak dB(C)", "peak dB(A)", "avg dB(Z)", "avg dB(C)", "avg dB(A)"],
    ["#1e90ff", "#ff00ff", "#2e8b57", "#4682b4", "#da70d6", "#9acd32"],
    [DOT, DOT, DOT, BAR, BAR, BAR], 2,
)
top = alt.layer(peaks, avg_lines, top_leg).resolve_scale(color="independent", shape="independent").resolve_axis(
    y="independent"
).properties(width=W, height=H, title=panel_title("average and peak noise level (1 min sampling)"))

# ---------------- bottom panel ----------------
bot_x = x_axis(":00:00")
band = alt.Chart(env).mark_area(color="lightcoral", opacity=0.3, interpolate="linear").encode(
    x=alt.X("t:Q", scale=XS, axis=bot_x),
    y=alt.Y("lo:Q", scale=YS, axis=y_axis("right")),
    y2="hi:Q",
)
bot_l = alt.Chart(bot_lines).mark_line(strokeWidth=1.5).encode(
    x=alt.X("t:Q", scale=XS, axis=bot_x),
    y=alt.Y("v:Q", scale=YS, axis=y_axis("left")),
    color=alt.Color("s:N", scale=alt.Scale(domain=BOT_NAMES, range=BOT_COLORS), legend=None),
    detail="s:N",
)
bot_leg = legend_layer(BOT_NAMES, BOT_COLORS, [BAR, BAR, BAR], 1)
bottom = alt.layer(band, bot_l, bot_leg).resolve_scale(color="independent", shape="independent").resolve_axis(
    y="independent"
).properties(width=W, height=H, title=panel_title("average noise level (5 min with 15s min/max dB envelope)"))

chart = alt.vconcat(top, bottom, spacing=4).properties(
    title=alt.TitleParams(
        ["data from [5004/mic0]", "starting point is [20240420_000048]"],
        anchor="start", frame="bounds", dx=11, offset=26,
        font=FONT, fontSize=14, fontWeight="bold", color="black", lineHeight=15,
    ),
    padding={"left": 4, "top": 3, "right": 4, "bottom": 4},
).configure_view(fill="#fff8dc", stroke="black", strokeWidth=1.5).configure(background="white")

chart.save("out.html", embed_options={"renderer": "svg", "actions": False})
